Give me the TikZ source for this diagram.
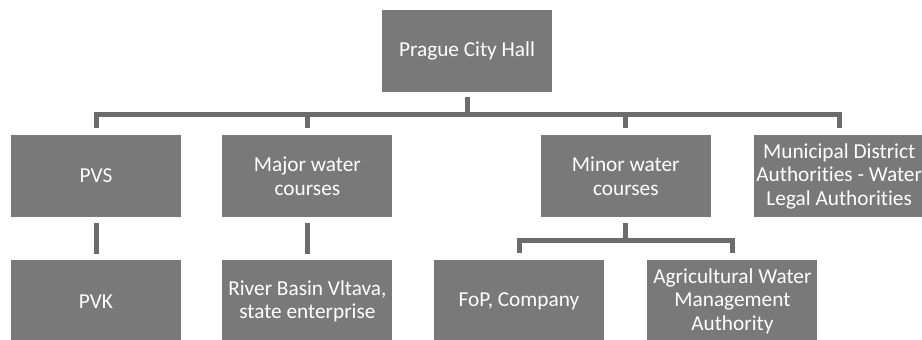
\documentclass[tikz,border=0pt]{standalone}
\usepackage{fontspec}
\setmainfont[Ligatures=NoCommon]{Carlito}
\usepackage{tikz}
\usetikzlibrary{positioning}
\definecolor{BoxGray}{RGB}{121,121,121}
\definecolor{LineGray}{RGB}{108,108,108}

\begin{document}
\begin{tikzpicture}[
    node distance = 43pt and 41pt,
    % -- node styles --
    unit/.style = {rectangle, fill=BoxGray, text=white,
                   minimum width=170pt, minimum height=82pt,
                   inner xsep=0pt, inner ysep=0pt, align=center,
                   font=\fontsize{21.3}{23.5}\selectfont},
    conn/.style = {draw=LineGray, line width=5pt},
]
\useasboundingbox (0,0) rectangle (922pt,-340pt);

% =====================================================================
%  TOP: city hall
% =====================================================================
\node[unit] (city) at (467pt,-51pt) {Prague City Hall};

% =====================================================================
%  ROW 2: bodies under the city hall
% =====================================================================
\node[unit] (pvs) at (96pt,-176pt) {PVS};
\node[unit, right=of pvs] (major) {Major water\\courses};
\node[unit, right=148pt of major] (minor) {Minor water\\courses};
\node[unit, right=43pt of minor] (muni) {Municipal District\\Authorities - Water\\Legal Authorities};

% -- city hall -> row 2 (one bar)
\foreach \child in {pvs, major, minor, muni}
    \draw[conn, shorten <=5pt, shorten >=7pt]
        (city.south) -- ++(0,-22pt) -| (\child.north);

% =====================================================================
%  ROW 3: operators
% =====================================================================
\node[unit, below=of pvs] (pvk) {PVK};
\node[unit, below=of major] (vltava) {River Basin Vltava,\\state enterprise};
\node[unit] (fop) at (519pt,-301pt) {FoP, Company};
\node[unit, right=43pt of fop] (agri) {Agricultural Water\\Management\\Authority};

\draw[conn, shorten <=6pt, shorten >=6pt] (pvs) -- (pvk);
\draw[conn, shorten <=6pt, shorten >=6pt] (major) -- (vltava);

% -- minor water courses -> two owners
\foreach \child in {fop, agri}
    \draw[conn, shorten <=6pt, shorten >=7pt]
        (minor.south) -- ++(0,-23.5pt) -| (\child.north);

\end{tikzpicture}
\end{document}
